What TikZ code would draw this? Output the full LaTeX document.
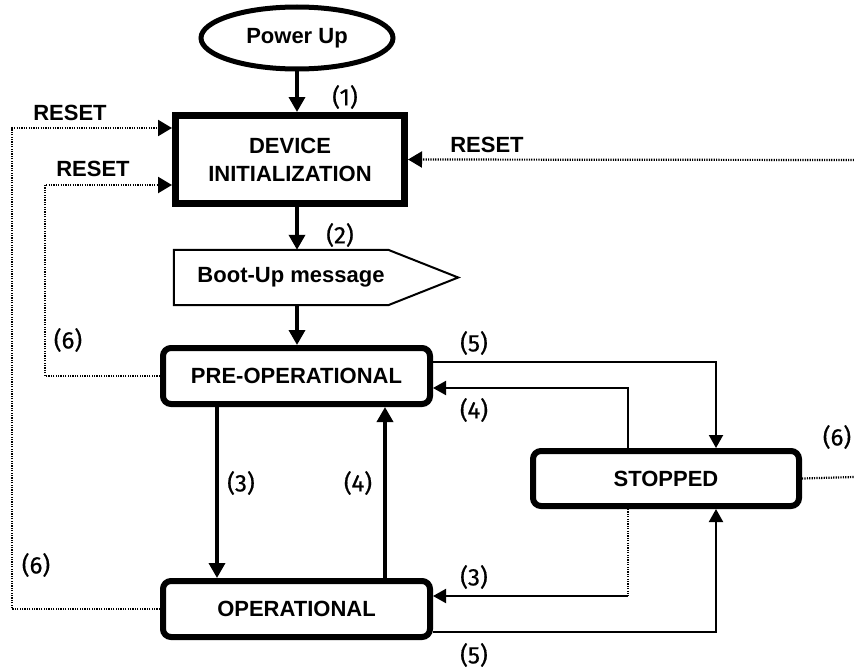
\documentclass[tikz,border=0pt]{standalone}
\usepackage{fontspec}
\setmainfont{Liberation Sans}
\newfontfamily\numfont[FakeBold=0.6]{Fira Sans}
\usetikzlibrary{arrows.meta,shapes.geometric,calc}

\begin{document}
\begin{tikzpicture}[x=1pt,y=-1pt,
    txt/.style={font=\fontsize{22}{28}\selectfont\bfseries},
    num/.style={font=\fontsize{24}{27}\selectfont\numfont},
    state/.style={txt,draw,line width=6pt,rounded corners=8pt,
                  minimum width=267pt,minimum height=56pt},
    flow/.style={->,>={Triangle[length=15pt,width=16pt]},line width=3.5pt},
    side/.style={->,>={Triangle[length=13pt,width=14pt]},line width=2pt},
    dots/.style={line width=2.2pt,dash pattern=on 1.2pt off 1.2pt},
    dotarr/.style={dots,->,>={Triangle[length=14pt,width=16pt]}}]

    \useasboundingbox (0,0) rectangle (854,669);

    \node[txt,ellipse,draw,line width=5pt,minimum width=192pt,minimum height=62pt] (pw) at (297,38) {Power Up};
    \node[txt,draw,line width=7pt,minimum width=229pt,minimum height=88pt,align=center] (dev) at (290,159.5) {DEVICE\\INITIALIZATION};

    \node[minimum width=214pt,minimum height=55pt] (boot) at (281,277.5) {};
    \draw[line width=2pt] (boot.north west) -- (boot.north east) -- ($(boot.east)+(70,0)$)
      -- (boot.south east) -- (boot.south west) -- cycle;
    \node[txt] (bootmsg) at ([xshift=10pt]boot.center) {Boot-Up message};

    \node[state] (pre) at (296.5,376) {PRE-OPERATIONAL};
    \node[state] (op) at (296.5,609) {OPERATIONAL};
    \node[state,minimum width=266pt,minimum height=55pt] (stop) at (666,478.5) {STOPPED};

    \draw[flow] (pw.south) -- (pw.south |- dev.north);
    \draw[flow] (dev.south -| pw) -- (pw |- boot.north);
    \draw[flow] (pw |- boot.south) -- (pw |- pre.north);
    \draw[flow] ([xshift=-79.5pt]pre.south) -- ([xshift=-79.5pt]op.north);
    \draw[flow] ([xshift=88.5pt]op.north) -- ([xshift=88.5pt]pre.south);

    \draw[side] ([yshift=14pt]pre.east) -| ([xshift=50pt]stop.north);
    \draw[side] ([xshift=-38pt]stop.north) |- ([yshift=-12pt]pre.east);
    \coordinate (s3) at ([xshift=-38pt]stop.south);
    \coordinate (o3) at ([yshift=13pt]op.east);
    \coordinate (c3) at (s3 |- o3);
    \draw[dots] (s3) -- (c3); \draw[side] (c3) -- (o3);
    \draw[side] ([yshift=-23pt]op.east) -| ([xshift=50pt]stop.south);

    \coordinate (rs) at (854,477);
    \coordinate (rr) at (854,160);
    \coordinate (lo) at (12,128);
    \coordinate (li) at (45,185);
    \draw[dots] (stop.east) -- (rs);
    \draw[dotarr] (rr) -- (dev.east);
    \draw[dotarr] (op.west) -| (lo) -- ([yshift=31.5pt]dev.west);
    \draw[dotarr] (pre.west) -| (li) -- ([yshift=-25.5pt]dev.west);

    \node[num] (n1) at (345,97) {(1)};
    \node[num] (n2) at (340,235) {(2)};
    \node[num] (n3a) at (241,483) {(3)};
    \node[num] (n4a) at (358,483) {(4)};
    \node[num] (n5a) at (474,343) {(5)};
    \node[num] (n4b) at (474,410) {(4)};
    \node[num] (n6r) at (837,437) {(6)};
    \node[num] (n3b) at (474,577) {(3)};
    \node[num] (n5b) at (474,655) {(5)};
    \node[num] (n6a) at (68,340) {(6)};
    \node[num] (n6b) at (36,565) {(6)};
    \node[txt] (rst1) at (70,113) {RESET};
    \node[txt] (rst2) at (93,169) {RESET};
    \node[txt] (rst3) at (487,145) {RESET};
  \end{tikzpicture}
\end{document}
